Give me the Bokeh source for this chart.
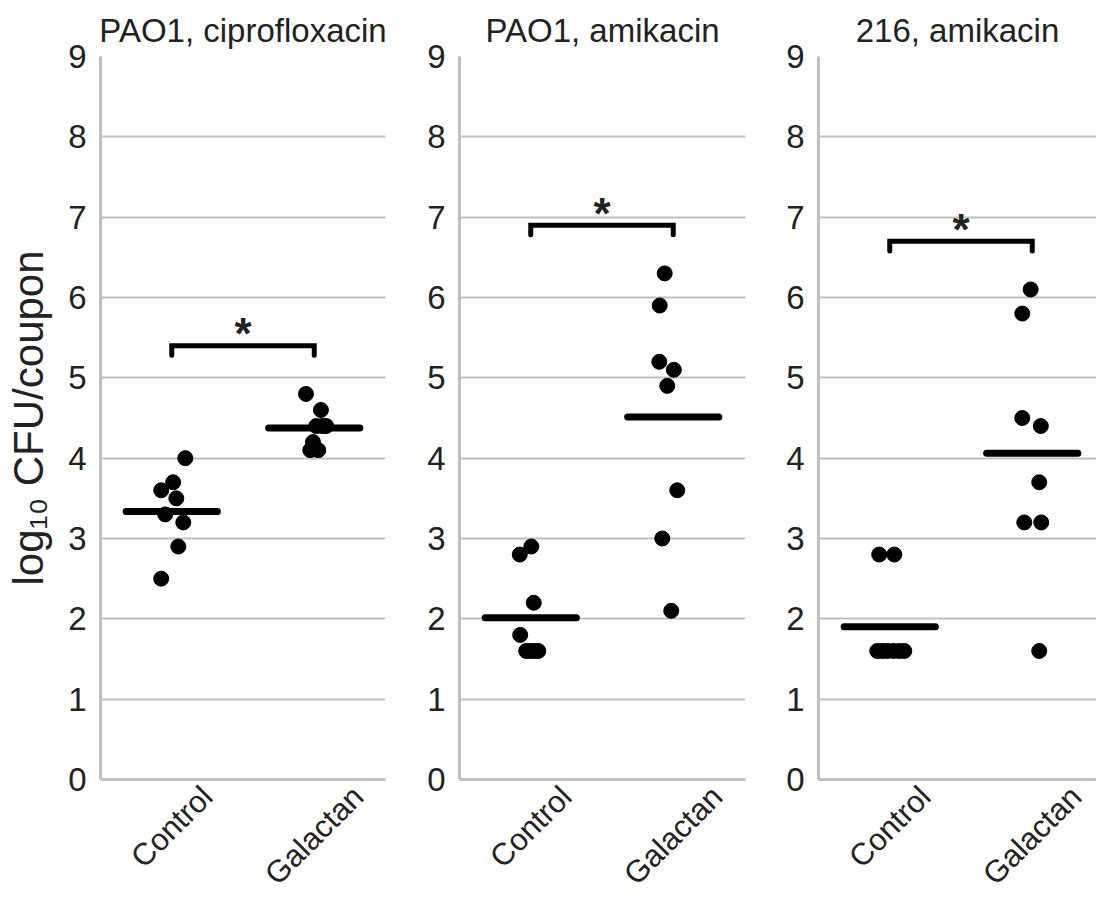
import numpy as np
from bokeh.plotting import figure
from bokeh.models import Range1d, FixedTicker, CustomJSTickFormatter
from bokeh.layouts import row
from bokeh.embed import file_html
from bokeh.resources import INLINE
from bokeh.core.properties import value

# ---------------- data ----------------
titles = ["PAO1, ciprofloxacin", "PAO1, amikacin", "216, amikacin"]
groups = ["Control", "Galactan"]
y_ticks = [0, 1, 2, 3, 4, 5, 6, 7, 8, 9]
y_label = "log\u2081\u2080 CFU/coupon"

p1_control = [4.0, 3.7, 3.6, 3.5, 3.3, 3.2, 2.9, 2.5]
p1_control_jitter = [0.095, 0.010, -0.074, 0.032, -0.046, 0.081, 0.046, -0.074]
p1_galactan = [4.8, 4.6, 4.4, 4.4, 4.4, 4.2, 4.1, 4.1]
p1_galactan_jitter = [-0.058, 0.047, 0.014, 0.084, 0.056, -0.009, -0.028, 0.028]

p2_control = [2.9, 2.8, 2.2, 1.8, 1.6, 1.6, 1.6, 1.6]
p2_control_jitter = [0.004, -0.077, 0.021, -0.074, -0.032, -0.004, 0.025, 0.053]
p2_galactan = [6.3, 5.9, 5.2, 5.1, 4.9, 3.6, 3.0, 2.1]
p2_galactan_jitter = [-0.060, -0.095, -0.098, 0.004, -0.042, 0.028, -0.077, -0.014]

p3_control = [2.8, 2.8, 1.6, 1.6, 1.6, 1.6, 1.6, 1.6]
p3_control_jitter = [-0.074, 0.032, -0.088, -0.053, -0.018, 0.025, 0.067, 0.102]
p3_galactan = [6.1, 5.8, 4.5, 4.4, 3.7, 3.2, 3.2, 1.6]
p3_galactan_jitter = [-0.011, -0.070, -0.070, 0.060, 0.049, -0.056, 0.063, 0.049]

bracket_levels = [5.4, 6.9, 6.7]
significance = ["*", "*", "*"]

panels = [
    (p1_control, p1_control_jitter, p1_galactan, p1_galactan_jitter),
    (p2_control, p2_control_jitter, p2_galactan, p2_galactan_jitter),
    (p3_control, p3_control_jitter, p3_galactan, p3_galactan_jitter),
]

# ---------------- style / layout ----------------
FONT = "Liberation Sans"
TXT = "#222222"
GRID = "#c0c0c0"
PX_PER_UNIT = 142.5
frame_widths = [285, 286, 278]
left_borders = [100, 64, 63]
right_borders = [10, 10, 0]
FRAME_H = 723
TOP = 56
BOTTOM = 0
cat_pos = [0.5, 1.5]
half_mean = 0.32
bracket_tick = 0.12
label_fs = 31
arial_w = {"C": .722, "o": .556, "n": .556, "t": .278, "r": .333, "l": .222,
           "G": .778, "a": .556, "c": .5}


def text_width(s, fs):
    return sum(arial_w.get(ch, .556) for ch in s) * fs


# rotated labels are right-anchored at the tick; shift ticks so each label is centred on its group
label_ticks = [round(c + 0.3536 * text_width(g, label_fs) / PX_PER_UNIT, 4)
               for c, g in zip(cat_pos, groups)]

figs = []
for i, (title, data) in enumerate(zip(titles, panels)):
    ctrl, ctrl_j, gal, gal_j = data
    fw = frame_widths[i]
    p = figure(frame_width=fw, frame_height=FRAME_H,
               x_range=Range1d(0, fw / PX_PER_UNIT), y_range=Range1d(0, 9),
               output_backend="svg", toolbar_location=None,
               min_border_left=left_borders[i], min_border_right=right_borders[i],
               min_border_top=TOP, min_border_bottom=BOTTOM)
    p.outline_line_color = None
    p.background_fill_color = "white"
    p.border_fill_color = "white"

    p.title.text = title
    p.title.align = "center"
    p.title.text_font = FONT
    p.title.text_font_size = "33px"
    p.title.text_font_style = "normal"
    p.title.text_color = TXT
    p.title.standoff = 16

    p.xgrid.visible = False
    p.ygrid.grid_line_color = GRID
    p.ygrid.grid_line_width = 2

    p.yaxis.ticker = FixedTicker(ticks=y_ticks)
    p.yaxis.minor_tick_line_color = None
    p.yaxis.major_tick_line_color = None
    p.yaxis.major_tick_out = 0
    p.yaxis.major_tick_in = 0
    p.yaxis.axis_line_color = GRID
    p.yaxis.axis_line_width = 3
    p.yaxis.major_label_text_font = FONT
    p.yaxis.major_label_text_font_size = "33px"
    p.yaxis.major_label_text_color = TXT
    p.yaxis.major_label_standoff = 14
    if i == 0:
        p.yaxis.axis_label = y_label
        p.yaxis.axis_label_text_font = FONT
        p.yaxis.axis_label_text_font_size = "42px"
        p.yaxis.axis_label_text_font_style = "normal"
        p.yaxis.axis_label_text_color = TXT
        p.yaxis.axis_label_standoff = 13

    p.xaxis.ticker = FixedTicker(ticks=label_ticks)
    p.xaxis.formatter = CustomJSTickFormatter(args=dict(labels=groups),
                                              code="return labels[index];")
    p.xaxis.minor_tick_line_color = None
    p.xaxis.major_tick_line_color = None
    p.xaxis.major_tick_out = 0
    p.xaxis.major_tick_in = 0
    p.xaxis.axis_line_color = GRID
    p.xaxis.axis_line_width = 3
    p.xaxis.major_label_orientation = np.pi / 4
    p.xaxis.major_label_text_font = FONT
    p.xaxis.major_label_text_font_size = f"{label_fs}px"
    p.xaxis.major_label_text_color = TXT
    p.xaxis.major_label_standoff = 12

    # points and group means
    for cat, vals, jit in ((cat_pos[0], ctrl, ctrl_j), (cat_pos[1], gal, gal_j)):
        xs = [cat + j for j in jit]
        p.scatter(xs, vals, size=15, color="black", line_color="black")
        m = float(np.mean(vals))
        p.segment(x0=[cat - half_mean], y0=[m], x1=[cat + half_mean], y1=[m],
                  line_color="black", line_width=7, line_cap="round")

    # significance bracket
    b = bracket_levels[i]
    p.line([cat_pos[0], cat_pos[0], cat_pos[1], cat_pos[1]],
           [b - bracket_tick, b, b, b - bracket_tick],
           line_color="black", line_width=5, line_cap="round", line_join="miter")
    p.text(x=[sum(cat_pos) / 2], y=[b], text=[significance[i]],
           text_font=value(FONT), text_font_size="44px", text_font_style="bold",
           text_align="center", text_baseline="alphabetic", y_offset=-12,
           text_color=TXT)
    figs.append(p)

layout = row(*figs, spacing=0)
open("out.html", "w").write(file_html(layout, INLINE))
